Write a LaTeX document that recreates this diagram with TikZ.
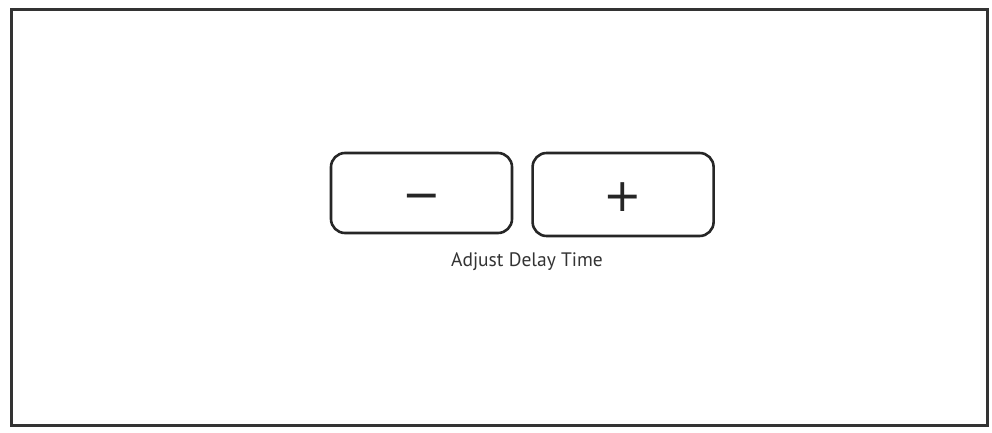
\documentclass[tikz,border=0pt]{standalone}
\usepackage{fontspec}
\setmainfont{PT Sans}
\newfontfamily\symfont{DejaVu Sans}
\usetikzlibrary{positioning}

\begin{document}
\begin{tikzpicture}[x=1pt, y=1pt,
    framebox/.style={draw=black!80, line width=3pt},
    btnbox/.style={rectangle, draw=black!85, line width=2.6pt, rounded corners=14pt, minimum width=181pt, minimum height=80pt, inner sep=0pt},
    btnsign/.style={font=\symfont\fontsize{46}{46}\selectfont, text=black!85},
    caption/.style={font=\fontsize{19.5}{22}\selectfont, text=black!80, inner sep=0pt, anchor=base}
]
\useasboundingbox (0,0) rectangle (992,432);
\draw[framebox] (11,7) rectangle (987,422.5);

\node[btnbox] at (421.5,239) (minus) {};
\node[btnbox, minimum height=83pt, right=18pt of minus, yshift=-1.5pt] (plus) {};

\node[btnsign] at ([yshift=-9pt]minus.center) (minussign) {−};
\node[btnsign] at ([yshift=-3pt]plus.center) (plussign) {+};

\node[caption] at (527,165.5) (delay) {Adjust Delay Time};
\end{tikzpicture}
\end{document}
